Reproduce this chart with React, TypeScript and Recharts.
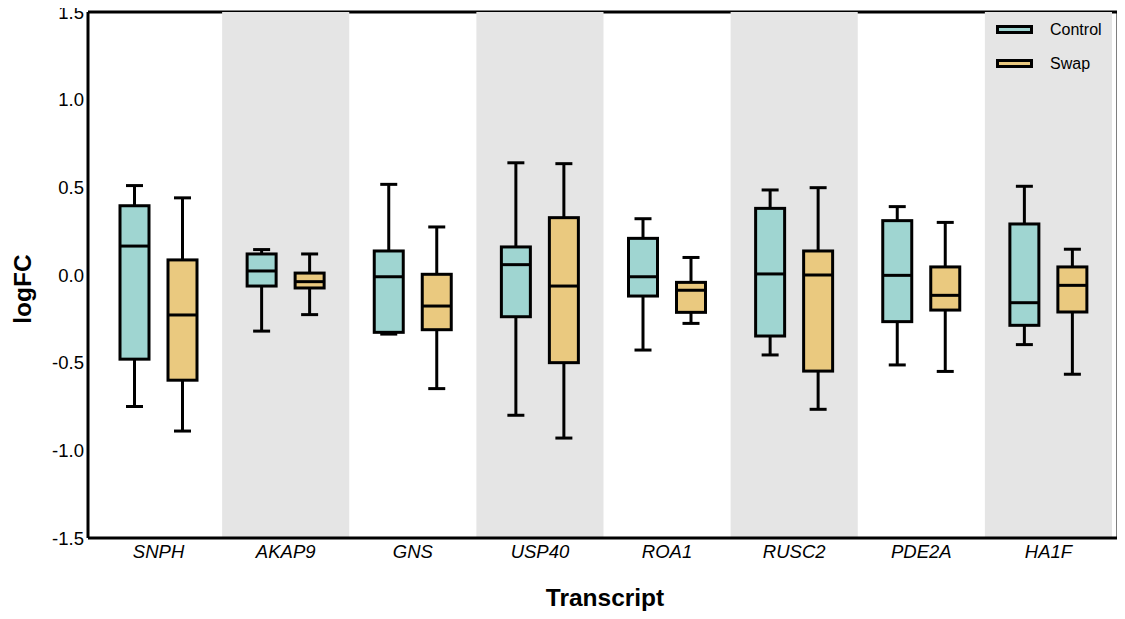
import React from 'react';
import { ComposedChart, Bar, XAxis, YAxis, ReferenceArea, CartesianGrid } from 'recharts';

const categories = ['SNPH', 'AKAP9', 'GNS', 'USP40', 'ROA1', 'RUSC2', 'PDE2A', 'HA1F'];
const shadedCategories = ['AKAP9', 'USP40', 'RUSC2', 'HA1F'];

const controlMin = [-0.75, -0.32, -0.337, -0.8, -0.428, -0.456, -0.513, -0.397];
const controlQ1 = [-0.48, -0.063, -0.327, -0.238, -0.12, -0.348, -0.266, -0.287];
const controlMed = [0.165, 0.023, -0.01, 0.059, -0.01, 0.006, -0.002, -0.158];
const controlQ3 = [0.395, 0.12, 0.137, 0.16, 0.209, 0.38, 0.31, 0.291];
const controlMax = [0.51, 0.145, 0.517, 0.64, 0.321, 0.485, 0.39, 0.506];

const swapMin = [-0.89, -0.226, -0.648, -0.93, -0.276, -0.766, -0.55, -0.566];
const swapQ1 = [-0.6, -0.074, -0.312, -0.5, -0.213, -0.548, -0.2, -0.211];
const swapMed = [-0.228, -0.038, -0.177, -0.063, -0.087, 0.0, -0.116, -0.059];
const swapQ3 = [0.086, 0.011, 0.004, 0.327, -0.042, 0.137, 0.046, 0.046];
const swapMax = [0.44, 0.12, 0.274, 0.635, 0.1, 0.498, 0.3, 0.147];

const yTicks = [-1.5, -1.0, -0.5, 0.0, 0.5, 1.0, 1.5];

const CONTROL_COLOR = '#9fd5d1';
const SWAP_COLOR = '#eac97f';
const BAND_COLOR = '#e5e5e5';
const FONT = '"Liberation Sans", Arial, Helvetica, sans-serif';

const data = categories.map((name, i) => ({
  name,
  control: { min: controlMin[i], q1: controlQ1[i], med: controlMed[i], q3: controlQ3[i], max: controlMax[i] },
  swap: { min: swapMin[i], q1: swapQ1[i], med: swapMed[i], q3: swapQ3[i], max: swapMax[i] },
}));

const makeBoxShape = (key: 'control' | 'swap', fill: string) => (props: any) => {
  const { x, y, width, height, payload } = props;
  const s = payload[key];
  if (!s || height == null) return <g />;
  const span = s.max - s.min;
  const k = span === 0 ? 0 : height / span;
  const py = (v: number) => y + (s.max - v) * k;
  const cx = x + width / 2;
  const capHalf = 8.5;
  const sw = 3;
  return (
    <g>
      <line x1={cx} x2={cx} y1={py(s.max)} y2={py(s.q3)} stroke="#000" strokeWidth={sw} />
      <line x1={cx} x2={cx} y1={py(s.q1)} y2={py(s.min)} stroke="#000" strokeWidth={sw} />
      <line x1={cx - capHalf} x2={cx + capHalf} y1={py(s.max)} y2={py(s.max)} stroke="#000" strokeWidth={sw} />
      <line x1={cx - capHalf} x2={cx + capHalf} y1={py(s.min)} y2={py(s.min)} stroke="#000" strokeWidth={sw} />
      <rect x={x} y={py(s.q3)} width={width} height={py(s.q1) - py(s.q3)} fill={fill} stroke="#000" strokeWidth={sw} />
      <line x1={x} x2={x + width} y1={py(s.med)} y2={py(s.med)} stroke="#000" strokeWidth={sw} />
    </g>
  );
};

const legendItems = [
  { label: 'Control', color: CONTROL_COLOR },
  { label: 'Swap', color: SWAP_COLOR },
];

const CHART_W = 1125;
const CHART_H = 619;

export default function App() {
  return (
    <div style={{ position: 'relative', width: CHART_W, height: CHART_H, margin: -8, fontFamily: FONT, overflow: 'visible' }}>
      <ComposedChart
        width={CHART_W}
        height={CHART_H}
        data={data}
        margin={{ top: 12, right: 7, bottom: 0, left: 0 }}
        barSize={29}
        barGap={19}
        style={{ fontFamily: FONT, overflow: 'visible' }}
      >
        {shadedCategories.map((c) => (
          <ReferenceArea key={c} x1={c} x2={c} fill={BAND_COLOR} fillOpacity={1} stroke="none" />
        ))}
        <CartesianGrid
          stroke="#000"
          strokeWidth={3}
          horizontalCoordinatesGenerator={(p: any) => [p.offset.top]}
          verticalCoordinatesGenerator={(p: any) => [p.offset.left + p.offset.width]}
        />
        <XAxis
          dataKey="name"
          type="category"
          height={81}
          padding={{ left: 7, right: 6 }}
          axisLine={{ stroke: '#000', strokeWidth: 3 }}
          tickLine={false}
          tickSize={0}
          tickMargin={7}
          interval={0}
          tick={{ fill: '#000', fontSize: 18.5, fontStyle: 'italic', fontFamily: FONT }}
          label={{
            content: () => (
              <text x={605} y={606} textAnchor="middle" fontFamily={FONT} fontWeight="bold" fontSize={24.5} fill="#000">
                Transcript
              </text>
            ),
          }}
        />
        <YAxis
          domain={[-1.5, 1.5]}
          ticks={yTicks}
          width={88}
          axisLine={{ stroke: '#000', strokeWidth: 3 }}
          tickLine={false}
          tickSize={0}
          tickMargin={4}
          interval={0}
          tickFormatter={(v: number) => v.toFixed(1)}
          tick={{ fill: '#000', fontSize: 18.5, fontFamily: FONT }}
          label={{
            content: () => (
              <text
                x={0}
                y={0}
                transform="translate(31 289) rotate(-90)"
                textAnchor="middle"
                fontFamily={FONT}
                fontWeight="bold"
                fontSize={24.5}
                fill="#000"
              >
                logFC
              </text>
            ),
          }}
        />
        <Bar
          dataKey={(d: any) => [d.control.min, d.control.max]}
          name="Control"
          fill={CONTROL_COLOR}
          shape={makeBoxShape('control', CONTROL_COLOR)}
          isAnimationActive={false}
        />
        <Bar
          dataKey={(d: any) => [d.swap.min, d.swap.max]}
          name="Swap"
          fill={SWAP_COLOR}
          shape={makeBoxShape('swap', SWAP_COLOR)}
          isAnimationActive={false}
        />
      </ComposedChart>
      <div style={{ position: 'absolute', left: 996, top: 13, fontSize: 16, color: '#000', fontFamily: FONT }}>
        {legendItems.map((it) => (
          <div key={it.label} style={{ display: 'flex', alignItems: 'center', height: 34 }}>
            <svg width={38} height={10} style={{ display: 'block' }}>
              <rect x={1.5} y={1.5} width={34} height={6} fill={it.color} stroke="#000" strokeWidth={3} />
            </svg>
            <span style={{ marginLeft: 16 }}>{it.label}</span>
          </div>
        ))}
      </div>
    </div>
  );
}
